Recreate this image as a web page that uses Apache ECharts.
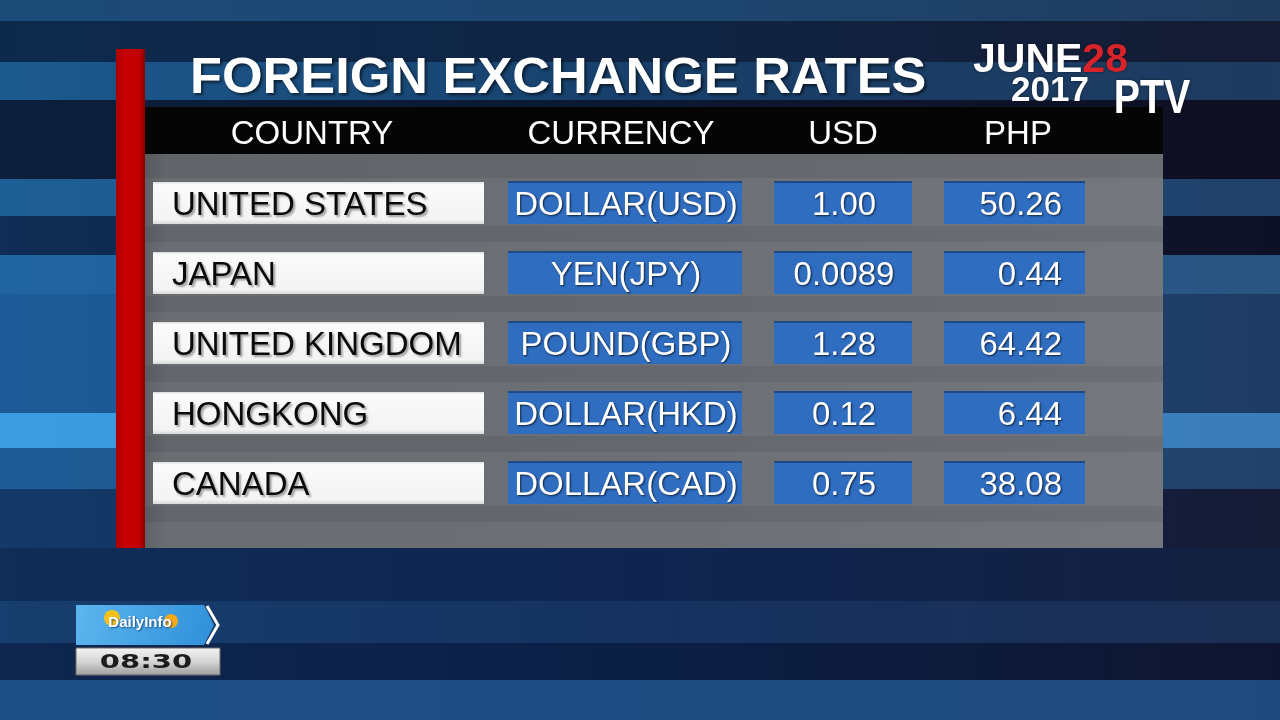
<!DOCTYPE html>
<html><head><meta charset="utf-8">
<script src="https://cdn.jsdelivr.net/npm/echarts@6/dist/echarts.min.js"></script>
<style>html,body{margin:0;padding:0;background:#0f2a4d;overflow:hidden}#c{width:1280px;height:720px}</style>
</head><body><div id="c"></div>
<script>
// ---------- data ----------
const title = 'FOREIGN EXCHANGE RATES';
const headers = ['COUNTRY', 'CURRENCY', 'USD', 'PHP'];
const countries = ['UNITED STATES', 'JAPAN', 'UNITED KINGDOM', 'HONGKONG', 'CANADA'];
const currencies = ['DOLLAR(USD)', 'YEN(JPY)', 'POUND(GBP)', 'DOLLAR(HKD)', 'DOLLAR(CAD)'];
const usdRates = [1.00, 0.0089, 1.28, 0.12, 0.75];
const phpRates = [50.26, 0.44, 64.42, 6.44, 38.08];
const dateMonth = 'JUNE', dateDay = '28', dateYear = '2017';
const network = 'PTV';
const showName = ['Daily', 'Info'];
const showTime = '08:30';

// ---------- layout / styles ----------
const FONT = '"Liberation Sans", Arial, sans-serif';
const fmt = v => v < 0.01 ? v.toFixed(4) : v.toFixed(2);
const PANEL_L = 145, PANEL_R = 1163;
// column boxes relative to panel left (x-axis units == px)
const COLS = [
  { x0: 8,   x1: 339, kind: 'white', align: 'left',   tx: 27 },
  { x0: 363, x1: 597, kind: 'blue',  align: 'center', tx: 481 },
  { x0: 629, x1: 767, kind: 'blue',  align: 'center', tx: 699 },
  { x0: 799, x1: 940, kind: 'blue',  align: 'right',  tx: 917 }
];
const HEADER_X = [312, 621, 843, 1018];

// background stripes: [y0, y1, leftColor, midColor, rightColor]
const STRIPES = [
  [0, 21, '#1c4b79', '#1d4670', '#1f3c5e'],
  [21, 62, '#0d2a4d', '#0f2545', '#151b33'],
  [62, 100, '#1c5a8f', '#173f6a', '#1e3a5e'],
  [100, 179, '#0b1f3c', '#0c1832', '#0f0e22'],
  [179, 216, '#1e5f97', '#1f4f80', '#20416a'],
  [216, 255, '#0f2d55', '#0e1e3e', '#0e1026'],
  [255, 294, '#2064a2', '#245c92', '#2a5582'],
  [294, 413, '#1d5c99', '#1e4c7e', '#1e3b63'],
  [413, 448, '#3b9de0', '#3a8ccc', '#3a7bb8'],
  [448, 489, '#1e5c96', '#204f80', '#22426a'],
  [489, 548, '#143a6a', '#142a50', '#151a35'],
  [548, 601, '#0f2d58', '#0f2550', '#14203f'],
  [601, 643, '#163e6e', '#153260', '#1c2f55'],
  [643, 680, '#0e2750', '#0b1f45', '#0f1530'],
  [680, 720, '#1d4f85', '#1d4c82', '#1f4a7e']
];

const graphics = [];
STRIPES.forEach(s => {
  graphics.push({
    type: 'rect', z: 0, silent: true,
    shape: { x: 0, y: s[0], width: 1280, height: s[1] - s[0] },
    style: { fill: new echarts.graphic.LinearGradient(0, 0, 1, 0, [
      { offset: 0, color: s[2] }, { offset: 0.5, color: s[3] }, { offset: 1, color: s[4] }]) }
  });
});
// gray panel
graphics.push({
  type: 'rect', z: 1, silent: true,
  shape: { x: PANEL_L, y: 154, width: PANEL_R - PANEL_L, height: 548 - 154 },
  style: { fill: new echarts.graphic.LinearGradient(0, 0, 1, 0, [
    { offset: 0, color: '#5f6267' }, { offset: 0.02, color: '#6a6d72' },
    { offset: 0.5, color: '#6c6f74' }, { offset: 1, color: '#74777c' }]) }
});
graphics.push({
  type: 'rect', z: 1, silent: true,
  shape: { x: PANEL_L, y: 154, width: PANEL_R - PANEL_L, height: 24 },
  style: { fill: 'rgba(0,0,0,0.08)' }
});
// black header band
graphics.push({
  type: 'rect', z: 2, silent: true,
  shape: { x: PANEL_L, y: 107, width: PANEL_R - PANEL_L, height: 47 },
  style: { fill: '#050505' }
});
// red bar
graphics.push({
  type: 'rect', z: 3, silent: true,
  shape: { x: 116, y: 49, width: 29, height: 499 },
  style: { fill: new echarts.graphic.LinearGradient(0, 0, 1, 0, [
    { offset: 0, color: '#a80000' }, { offset: 0.3, color: '#c80000' },
    { offset: 0.8, color: '#c00000' }, { offset: 1, color: '#8a0000' }]) }
});
// title
graphics.push({
  type: 'text', z: 5, silent: true, x: 190, y: 79.5, scaleX: 1.045,
  style: { text: title, font: 'bold 50px ' + FONT, fill: '#ffffff',
    align: 'left', verticalAlign: 'middle',
    textShadowColor: 'rgba(0,0,0,0.6)', textShadowBlur: 3, textShadowOffsetX: 2, textShadowOffsetY: 2 }
});
// header labels
headers.forEach((h, i) => {
  graphics.push({
    type: 'text', z: 5, silent: true, x: HEADER_X[i], y: 134.5,
    style: { text: h, font: '33px ' + FONT, fill: '#ffffff', align: 'center', verticalAlign: 'middle' }
  });
});
// date
graphics.push({
  type: 'text', z: 5, silent: true, x: 973, y: 61,
  style: { text: '{w|' + dateMonth + '}{r|' + dateDay + '}', align: 'left', verticalAlign: 'middle',
    rich: {
      w: { font: 'bold 41px ' + FONT, fill: '#ffffff', textShadowColor: 'rgba(0,0,0,0.5)', textShadowBlur: 3 },
      r: { font: 'bold 41px ' + FONT, fill: '#d8232a', textShadowColor: 'rgba(0,0,0,0.5)', textShadowBlur: 3 }
    } }
});
graphics.push({
  type: 'text', z: 5, silent: true, x: 1050, y: 91,
  style: { text: dateYear, font: 'bold 35px ' + FONT, fill: '#ffffff', align: 'center', verticalAlign: 'middle',
    textShadowColor: 'rgba(0,0,0,0.5)', textShadowBlur: 3 }
});
graphics.push({
  type: 'text', z: 6, silent: true, x: 1152, y: 100, scaleX: 0.82,
  style: { text: network, font: '900 48px ' + FONT, fill: '#ffffff', align: 'center', verticalAlign: 'middle',
    textShadowColor: 'rgba(0,0,0,0.5)', textShadowBlur: 3 }
});
// show logo
graphics.push({
  type: 'polygon', z: 5, silent: true,
  shape: { points: [[76, 605], [204, 605], [214, 625], [204, 645], [76, 645]] },
  style: { fill: new echarts.graphic.LinearGradient(0, 0, 1, 1, [
    { offset: 0, color: '#5cb6ee' }, { offset: 1, color: '#2f8fd9' }]) }
});
graphics.push({
  type: 'polyline', z: 6, silent: true,
  shape: { points: [[207, 606], [218, 625], [207, 644]] },
  style: { stroke: '#ffffff', lineWidth: 3, fill: null }
});
graphics.push({
  type: 'circle', z: 6, silent: true, shape: { cx: 112, cy: 618, r: 8 },
  style: { fill: '#f6c21a' }
});
graphics.push({
  type: 'circle', z: 6, silent: true, shape: { cx: 171, cy: 621, r: 7 },
  style: { fill: '#f6a81a' }
});
graphics.push({
  type: 'text', z: 7, silent: true, x: 140, y: 623,
  style: { text: showName[0] + showName[1], font: 'bold 15px ' + FONT, fill: '#ffffff',
    align: 'center', verticalAlign: 'middle',
    textShadowColor: 'rgba(0,40,90,0.7)', textShadowBlur: 2, textShadowOffsetX: 1, textShadowOffsetY: 1 }
});
graphics.push({
  type: 'rect', z: 5, silent: true,
  shape: { x: 76, y: 648, width: 144, height: 27 },
  style: { fill: new echarts.graphic.LinearGradient(0, 0, 0, 1, [
    { offset: 0, color: '#f4f4f4' }, { offset: 0.5, color: '#d6d6d6' }, { offset: 1, color: '#9c9c9c' }]),
    stroke: '#6a6a6a', lineWidth: 1 }
});
graphics.push({
  type: 'text', z: 6, silent: true, x: 146, y: 663, scaleX: 1.45,
  style: { text: showTime, font: 'bold 20px "DejaVu Sans", sans-serif', fill: '#1c1c1c',
    align: 'center', verticalAlign: 'middle' }
});

// ---------- chart ----------
const chart = echarts.init(document.getElementById('c'), null, { renderer: 'canvas' });

function renderRow(params, api) {
  const row = api.value(1);
  const base = api.coord([0, row]);
  const yc = base[1];
  const children = [];
  const px = x => api.coord([x, row])[0];
  // darker band below the row
  children.push({ type: 'rect', shape: { x: px(0), y: yc + 23, width: px(1018) - px(0), height: 16 },
    style: { fill: 'rgba(0,0,0,0.07)' } });
  const texts = [countries[row], currencies[row], fmt(usdRates[row]), fmt(phpRates[row])];
  COLS.forEach((c, j) => {
    const x0 = px(c.x0), x1 = px(c.x1);
    if (c.kind === 'white') {
      children.push({ type: 'rect', shape: { x: x0, y: yc - 21, width: x1 - x0, height: 42 },
        style: { fill: new echarts.graphic.LinearGradient(0, 0, 0, 1, [
          { offset: 0, color: '#dcdcdc' }, { offset: 0.06, color: '#fbfbfb' },
          { offset: 0.9, color: '#f3f3f3' }, { offset: 1, color: '#d8d8d8' }]) } });
    } else {
      children.push({ type: 'rect', shape: { x: x0, y: yc - 22, width: x1 - x0, height: 43 },
        style: { fill: '#2f6dc1' } });
      children.push({ type: 'rect', shape: { x: x0, y: yc - 22, width: x1 - x0, height: 2 },
        style: { fill: '#1f4a86' } });
    }
    const dark = c.kind === 'white';
    children.push({
      type: 'text', x: px(c.tx), y: yc + 3,
      style: { text: texts[j], font: '33px ' + FONT,
        fill: dark ? '#0a0a0a' : '#ffffff', align: c.align, verticalAlign: 'middle',
        textShadowColor: dark ? 'rgba(0,0,0,0.35)' : 'rgba(0,0,0,0.7)',
        textShadowBlur: 2, textShadowOffsetX: dark ? 2 : 1, textShadowOffsetY: dark ? 2 : 1 }
    });
  });
  return { type: 'group', children };
}

chart.setOption({
  animation: false,
  backgroundColor: 'transparent',
  graphic: { elements: graphics },
  grid: { left: PANEL_L, width: PANEL_R - PANEL_L, top: 168, height: 350, containLabel: false },
  xAxis: { type: 'value', min: 0, max: PANEL_R - PANEL_L, show: false },
  yAxis: { type: 'category', data: countries, inverse: true, show: false },
  series: [{
    type: 'custom', coordinateSystem: 'cartesian2d', z: 10, clip: false,
    renderItem: renderRow,
    data: countries.map((c, i) => [0, i])
  }]
});
</script>
</body></html>
